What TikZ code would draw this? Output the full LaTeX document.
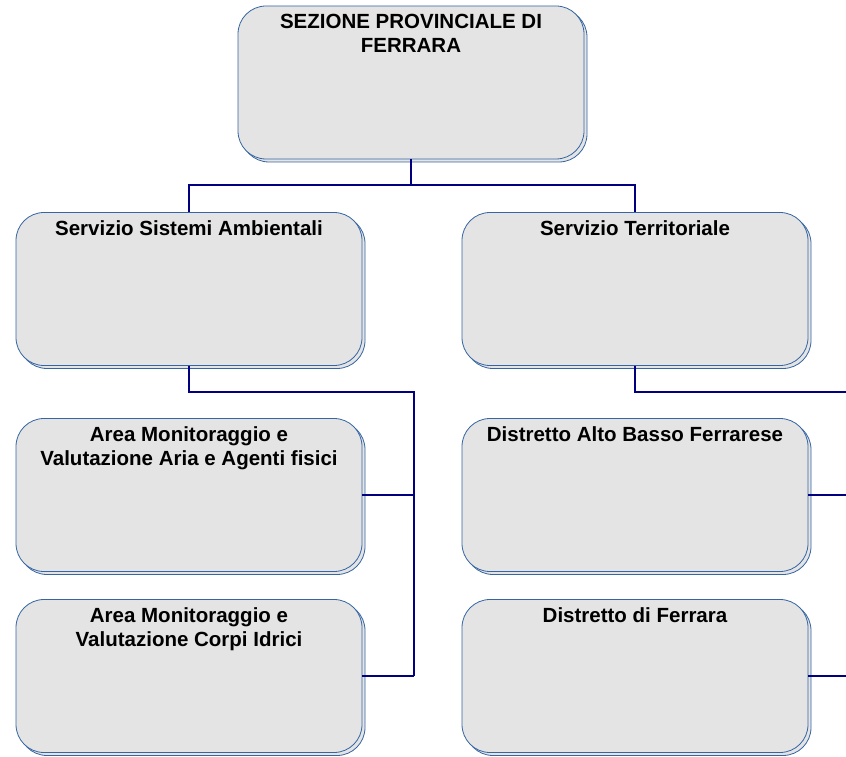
\documentclass[tikz,border=0pt]{standalone}
\usepackage{fontspec}
\setmainfont{Liberation Sans}
\usetikzlibrary{positioning, shadows}
\definecolor{orgfill}{HTML}{E4E4E4}
\definecolor{orgedge}{HTML}{3565A3}
\definecolor{orgline}{HTML}{000080}

\begin{document}
\begin{tikzpicture}[x=1pt, y=-1pt,
    unitbox/.style={draw=orgedge, line width=0.8pt, fill=orgfill, rounded corners=28pt,
        minimum width=346pt, minimum height=153pt, inner sep=0pt,
        copy shadow={shadow xshift=3pt, shadow yshift=-3pt, draw=orgedge, fill=orgfill}},
    unittext/.style={font=\bfseries\fontsize{20.5}{24.5}\selectfont, align=center,
        anchor=north, inner sep=0pt},
    link/.style={draw=orgline, line width=2pt}]

    % page frame
    \useasboundingbox (0,0) rectangle (846,757);

    % Section head
    \node[unitbox] (sez) at (411,82.5) {};
    \node[unittext] (sez-t) at ([yshift=-8pt]sez.north) {SEZIONE PROVINCIALE DI\\FERRARA};

    % Services and their units
    \foreach \name/\x/\y/\label in {
        ssa/189/289/{Servizio Sistemi Ambientali},
        st/635/289/{Servizio Territoriale},
        ama/189/495/{Area Monitoraggio e\\Valutazione Aria e Agenti fisici},
        amc/189/676/{Area Monitoraggio e\\Valutazione Corpi Idrici},
        dab/635/495/{Distretto Alto Basso Ferrarese},
        dfe/635/676/{Distretto di Ferrara}} {
        \node[unitbox] (\name) at (\x,\y) {};
        \node[unittext] (\name-t) at ([yshift=-8pt]\name.north) {\label};
    }

    % Head to services
    \draw[link] (sez.south) -- ++(0,26) coordinate (j1);
    \draw[link] (ssa.north) |- (j1) -| (st.north);

    % Left trunk
    \coordinate (ltrunk) at (414,392);
    \draw[link] (ssa.south) |- (ltrunk) -- (ltrunk |- amc.east);
    \draw[link] (ama.east) -- (ama.east -| ltrunk);
    \draw[link] (amc.east) -- (amc.east -| ltrunk);

    % Right trunk (runs past the page edge)
    \coordinate (rtrunk) at (860,392);
    \draw[link] (st.south) |- (rtrunk) -- (rtrunk |- dfe.east);
    \draw[link] (dab.east) -- (dab.east -| rtrunk);
    \draw[link] (dfe.east) -- (dfe.east -| rtrunk);
\end{tikzpicture}
\end{document}
